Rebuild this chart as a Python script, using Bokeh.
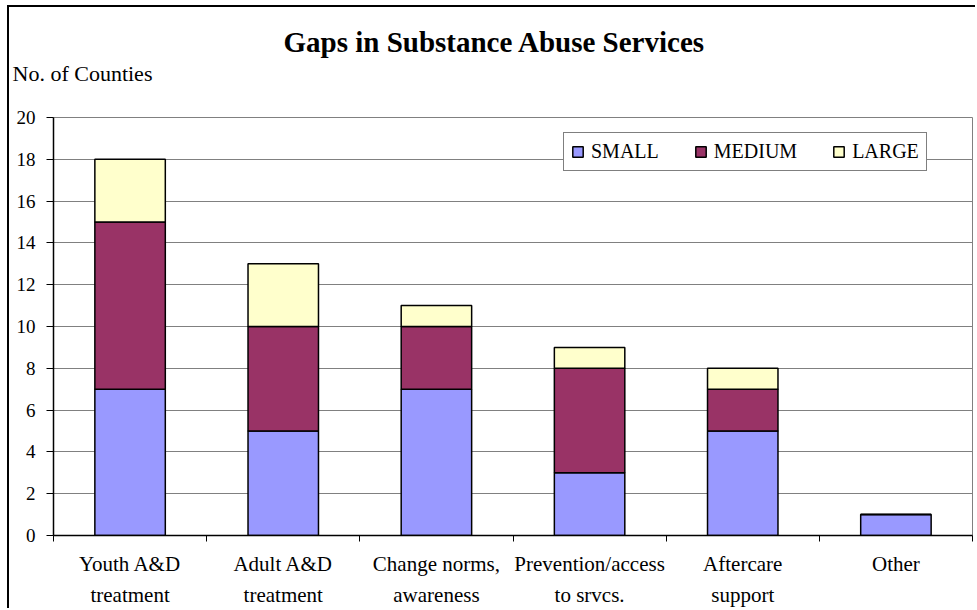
from bokeh.plotting import figure
from bokeh.models import ColumnDataSource, Range1d, FixedTicker, Title, LinearAxis
from bokeh.embed import file_html
from bokeh.resources import INLINE

# Service gap categories and county counts by county size
categories = ["Youth A&D\ntreatment", "Adult A&D\ntreatment", "Change norms,\nawareness",
              "Prevention/access\nto srvcs.", "Aftercare\nsupport", "Other"]
small = [7, 5, 7, 3, 5, 1]
medium = [8, 5, 3, 5, 2, 0]
large = [3, 3, 1, 1, 1, 0]
series_names = ["SMALL", "MEDIUM", "LARGE"]
series_colors = ["#9999FF", "#993366", "#FFFFCC"]
y_ticks = list(range(0, 21, 2))

FONT = "Liberation Serif"

centers = [i + 0.5 for i in range(len(categories))]
source = ColumnDataSource(data=dict(x=centers, small=small, medium=medium, large=large))

p = figure(width=968, height=603, output_backend="svg", toolbar_location=None,
           x_range=Range1d(0, len(categories)), y_range=Range1d(0, 20),
           min_border_left=44, min_border_top=110, min_border_right=5, min_border_bottom=73,
           background_fill_color="white", border_fill_color="white")
p.styles = {"margin-left": "7px", "margin-top": "5px",
            "border-left": "2px solid black", "border-top": "2px solid black"}
p.outline_line_color = "#808080"
p.outline_line_width = 1

# main title (outermost panel above the plot)
p.title.text = "Gaps in Substance Abuse Services"
p.title.align = "left"
p.title.offset = 230
p.title.text_font = FONT
p.title.text_font_size = "29px"
p.title.text_font_style = "bold"
p.title.text_color = "black"
p.title.standoff = 0

p.vbar_stack(["small", "medium", "large"], x="x", width=0.46, source=source,
             fill_color=series_colors, line_color="black", line_width=1.5,
             legend_label=series_names)

# y axis
p.yaxis.ticker = FixedTicker(ticks=y_ticks, minor_ticks=[])
p.yaxis.major_tick_out = 7
p.yaxis.major_tick_in = 0
p.yaxis.minor_tick_out = 0
p.yaxis.minor_tick_in = 0
p.yaxis.axis_line_color = "black"
p.yaxis.axis_line_width = 1.5
p.yaxis.major_tick_line_color = "black"
p.yaxis.major_label_text_font = FONT
p.yaxis.major_label_text_font_size = "19px"
p.yaxis.major_label_text_color = "black"
p.yaxis.major_label_standoff = 11

# x axis: labels at category centres, tick marks between categories
p.xaxis.ticker = FixedTicker(ticks=centers, minor_ticks=list(range(len(categories) + 1)))
p.xaxis.major_label_overrides = {c: lab for c, lab in zip(centers, categories)}
p.xaxis.major_tick_out = 0
p.xaxis.major_tick_in = 0
p.xaxis.minor_tick_out = 6
p.xaxis.minor_tick_in = 0
p.xaxis.minor_tick_line_color = "black"
p.xaxis.minor_tick_line_width = 1
p.xaxis.axis_line_color = "black"
p.xaxis.axis_line_width = 1.5
p.xaxis.major_label_text_font = FONT
p.xaxis.major_label_text_font_size = "21px"
p.xaxis.major_label_text_color = "black"
p.xaxis.major_label_text_line_height = 1.33
p.xaxis.major_label_standoff = 10

p.xgrid.grid_line_color = None
p.ygrid.grid_line_color = "#808080"
p.ygrid.grid_line_width = 1

# legend
lg = p.legend[0]
lg.orientation = "horizontal"
lg.location = (510, 364)
lg.margin = 0
lg.padding = 7
lg.spacing = 35
lg.glyph_width = 13
lg.glyph_height = 13
lg.label_standoff = 7
lg.label_text_font = FONT
lg.label_text_font_size = "20px"
lg.label_text_color = "black"
lg.border_line_color = "black"
lg.border_line_width = 1
lg.background_fill_color = "white"
lg.background_fill_alpha = 1

# blank spacer band between the plot frame and the value-axis caption
spacer = LinearAxis(ticker=FixedTicker(ticks=[3], minor_ticks=[]),
                    major_label_overrides={3: ""}, major_label_text_font_size="0px",
                    major_label_standoff=0,
                    major_tick_out=31, major_tick_in=0, minor_tick_out=0, minor_tick_in=0,
                    axis_line_color=None, major_tick_line_color=None,
                    minor_tick_line_color=None)
p.add_layout(spacer, "above")

# value-axis caption
p.add_layout(Title(text="No. of Counties", align="left", offset=-41, standoff=2,
                   text_font=FONT, text_font_size="22px", text_font_style="normal",
                   text_color="black"), "above")

open("out.html", "w").write(file_html(p, INLINE))
